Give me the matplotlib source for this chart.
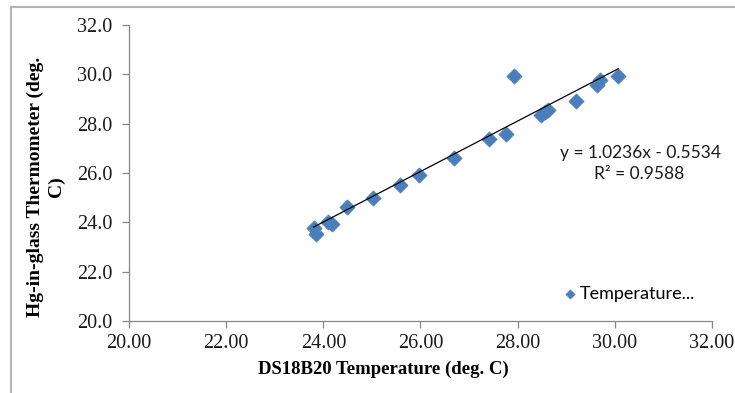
import matplotlib
matplotlib.use("Agg")
import matplotlib.pyplot as plt
import numpy as np

# Data
ds18b20 = [23.80, 23.84, 24.09, 24.17, 24.48, 25.03, 25.57, 25.96, 26.68,
           27.42, 27.77, 27.93, 28.47, 28.57, 28.63, 29.21, 29.64, 29.70, 30.07]
hg_glass = [23.77, 23.53, 24.01, 23.93, 24.62, 24.99, 25.51, 25.92, 26.61,
            27.38, 27.58, 29.93, 28.35, 28.47, 28.55, 28.92, 29.57, 29.77, 29.93]
slope = 1.0236
intercept = -0.5534
r_squared = 0.9588
x_ticks = [20.0, 22.0, 24.0, 26.0, 28.0, 30.0, 32.0]
y_ticks = [20.0, 22.0, 24.0, 26.0, 28.0, 30.0, 32.0]
series_name = "Temperature..."

W, H = 735, 393
fig = plt.figure(figsize=(W / 100, H / 100), dpi=100)
fig.patch.set_facecolor("white")

# outer chart frame (left and top visible)
fig.add_artist(plt.Line2D([11 / W, 11 / W], [0, 1 - 7 / H], transform=fig.transFigure,
                          color="#b4b4b4", lw=1.5))
fig.add_artist(plt.Line2D([11 / W, 1], [1 - 7 / H, 1 - 7 / H], transform=fig.transFigure,
                          color="#b4b4b4", lw=1.5))

left, right, bottom, top = 129 / W, 712 / W, 1 - 321 / H, 1 - 25 / H
ax = fig.add_axes([left, bottom, right - left, top - bottom])

ax.scatter(ds18b20, hg_glass, marker="D", s=60, color="#4a7ebb", edgecolors="#4a7ebb",
           linewidths=0.5, zorder=3, label=series_name)
xs = np.array([min(ds18b20), max(ds18b20)])
ax.plot(xs, slope * xs + intercept, color="black", lw=0.9, zorder=4)

ax.set_xlim(20, 32)
ax.set_ylim(20, 32)
ax.set_xticks(x_ticks)
ax.set_yticks(y_ticks)
ax.set_xticklabels([f"{v:.2f}" for v in x_ticks])
ax.set_yticklabels([f"{v:.1f}" for v in y_ticks])

for s in ["top", "right"]:
    ax.spines[s].set_visible(False)
for s in ["left", "bottom"]:
    ax.spines[s].set_color("#868686")
    ax.spines[s].set_linewidth(0.9)
ax.tick_params(axis="both", direction="out", length=5, width=0.9, color="#868686",
               labelsize=14.5, labelcolor="#1a1a1a")
ax.tick_params(axis="y", pad=7)
ax.tick_params(axis="x", pad=4)
for lab in ax.get_xticklabels() + ax.get_yticklabels():
    lab.set_fontfamily("Liberation Serif")

fig.text(383 / W, 1 - 369 / H, "DS18B20 Temperature (deg. C)", ha="center", va="center",
         fontfamily="Liberation Serif", fontweight="bold", fontsize=13.5)
fig.text(46 / W, 1 - 187 / H, "Hg-in-glass Thermometer (deg.\nC)", rotation=90,
         ha="center", va="center", fontfamily="Liberation Serif", fontweight="bold",
         fontsize=14, linespacing=1.25)

fig.text(640 / W, 1 - 153 / H, f"y = {slope:.4f}x - {abs(intercept):.4f}",
         ha="center", va="center", fontsize=12.5, fontfamily="Lato", color="#1a1a1a")
fig.text(639 / W, 1 - 174 / H, f"R² = {r_squared:.4f}",
         ha="center", va="center", fontsize=12.5, fontfamily="Lato", color="#1a1a1a")

leg = ax.legend(loc="center left", bbox_to_anchor=(545 / W, 1 - 294 / H),
                bbox_transform=fig.transFigure, frameon=False,
                handletextpad=0.05, handlelength=1.0, markerscale=0.6,
                prop={"family": "Lato", "size": 13})

fig.savefig("out.png", dpi=100, facecolor="white")
